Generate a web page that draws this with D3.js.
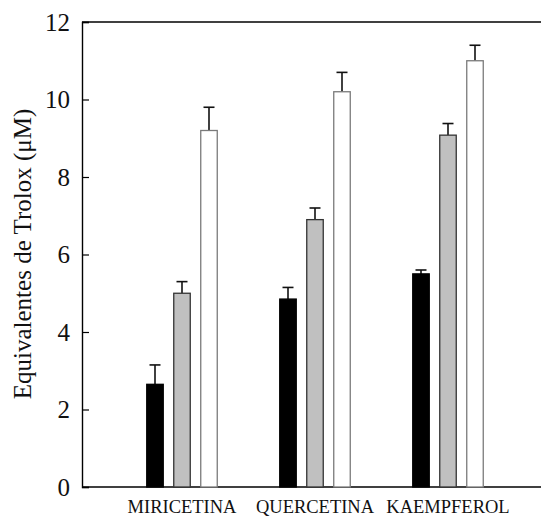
<!DOCTYPE html>
<html>
<head>
<meta charset="utf-8">
<script src="https://cdn.jsdelivr.net/npm/d3@7"></script>
<style>
  body { margin: 0; background: #fff; }
  svg { display: block; }
</style>
</head>
<body>
<svg id="chart" width="541" height="518"></svg>
<script>
const categories = ["MIRICETINA", "QUERCETINA", "KAEMPFEROL"];
const seriesNames = ["s1", "s2", "s3"];
const seriesFill = ["#000000", "#c0c0c0", "#ffffff"];
const seriesStroke = ["#000000", "#333333", "#7a7a7a"];
const values = [
  [2.65, 5.0, 9.2],
  [4.85, 6.9, 10.2],
  [5.5, 9.08, 11.0]
];
const errors = [
  [0.5, 0.3, 0.6],
  [0.3, 0.3, 0.5],
  [0.1, 0.3, 0.4]
];
const yTicks = [0, 2, 4, 6, 8, 10, 12];
const yTitle = "Equivalentes de Trolox (\u03bcM)";

const svg = d3.select("#chart");
const mLeft = 82, mRight = 541, mTop = 22, mBottom = 487;

const y = d3.scaleLinear().domain([0, 12]).range([mBottom, mTop]);
const x0 = d3.scaleBand().domain(categories).range([115.5, 514.5]).padding(0);
const x1 = d3.scalePoint().domain(seriesNames).range([-27, 27]);
const barW = 16.5;

// frame lines
svg.append("line").attr("x1", mLeft).attr("x2", mRight).attr("y1", mTop).attr("y2", mTop)
  .attr("stroke", "#000").attr("stroke-width", 1.4);
svg.append("line").attr("x1", mLeft).attr("x2", mRight).attr("y1", mBottom).attr("y2", mBottom)
  .attr("stroke", "#000").attr("stroke-width", 1.4);

// y axis with inward ticks
const yAxis = d3.axisRight(y).tickValues(yTicks).tickSize(7).tickFormat("");
const ya = svg.append("g").attr("transform", `translate(${mLeft},0)`).call(yAxis);
ya.select(".domain").attr("stroke", "#000").attr("stroke-width", 1.4);
ya.selectAll(".tick line").attr("stroke", "#000").attr("stroke-width", 1.2);

// tick labels
svg.append("g").selectAll("text").data(yTicks).join("text")
  .attr("x", 70).attr("y", d => y(d)).attr("dy", "0.35em")
  .attr("text-anchor", "end")
  .attr("font-family", "Liberation Serif, serif").attr("font-size", 25)
  .attr("fill", "#111")
  .text(d => d);

// y title
svg.append("text")
  .attr("transform", `translate(31,254) rotate(-90)`)
  .attr("text-anchor", "middle")
  .attr("font-family", "Liberation Serif, serif").attr("font-size", 25)
  .attr("fill", "#111")
  .text(yTitle);

// bars
const groups = svg.append("g").selectAll("g").data(categories).join("g")
  .attr("transform", d => `translate(${x0(d) + x0.bandwidth() / 2},0)`);

groups.each(function(cat, ci) {
  const g = d3.select(this);
  seriesNames.forEach((s, si) => {
    const v = values[ci][si], e = errors[ci][si];
    const cx = x1(s);
    g.append("line").attr("x1", cx).attr("x2", cx).attr("y1", y(v)).attr("y2", y(v + e))
      .attr("stroke", "#111").attr("stroke-width", 1.6);
    g.append("line").attr("x1", cx - 5.5).attr("x2", cx + 5.5).attr("y1", y(v + e)).attr("y2", y(v + e))
      .attr("stroke", "#111").attr("stroke-width", 1.6);
    g.append("rect")
      .attr("x", cx - barW / 2).attr("width", barW)
      .attr("y", y(v)).attr("height", y(0) - y(v))
      .attr("fill", seriesFill[si]).attr("stroke", seriesStroke[si]).attr("stroke-width", 1.3);
  });
});

// category labels
svg.append("g").selectAll("text").data(categories).join("text")
  .attr("x", d => x0(d) + x0.bandwidth() / 2).attr("y", 513)
  .attr("text-anchor", "middle")
  .attr("font-family", "Liberation Serif, serif").attr("font-size", 18.5)
  .attr("fill", "#111")
  .text(d => d);
</script>
</body>
</html>
